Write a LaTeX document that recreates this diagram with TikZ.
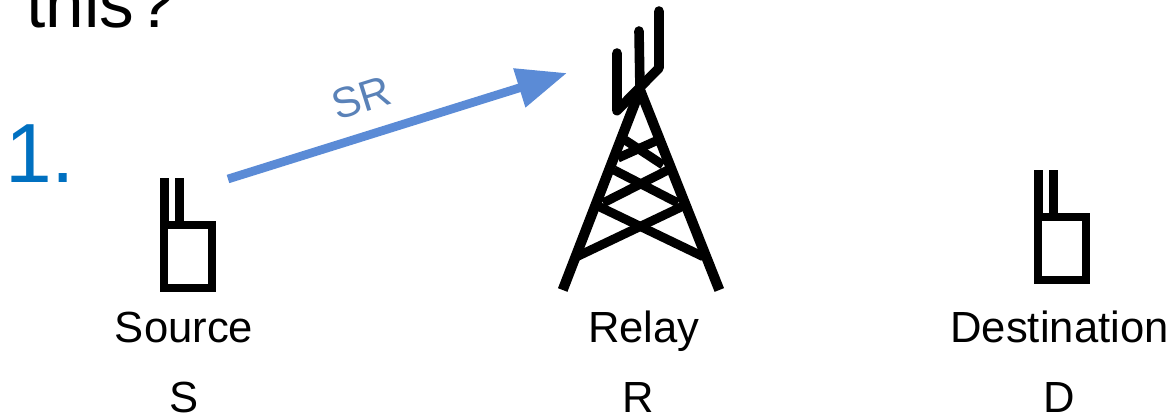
\documentclass[tikz,border=0pt]{standalone}
\usepackage{fontspec}
\setmainfont{Liberation Sans}
\usetikzlibrary{arrows.meta}
\definecolor{linkblue}{HTML}{5B8BD6}
\definecolor{labelblue}{HTML}{5A82B8}
\definecolor{numblue}{HTML}{0070C0}

\begin{document}
\begin{tikzpicture}[x=0.75pt, y=-0.75pt, node distance=52.5pt]
    % Styles
    \tikzstyle{handset} = [rectangle, draw, line width=6pt, inner sep=0pt, minimum width=36pt, minimum height=47.25pt]
    \tikzstyle{aerial} = [line width=6.75pt]
    \tikzstyle{mast} = [line width=7.6pt]
    \tikzstyle{brace} = [line width=6.8pt]
    \tikzstyle{whip} = [line width=7.2pt, line cap=round, line join=round]
    \tikzstyle{station} = [font=\fontsize{32.7pt}{36pt}\selectfont, text height=24pt, text depth=7pt, inner sep=0pt]

    \useasboundingbox (0,0) rectangle (1173,420);
    \clip (0,0) rectangle (1173,420);

    % Heading
    \node[anchor=base west, inner sep=0pt, font=\fontsize{52pt}{56pt}\selectfont] (Heading) at (26,28) {this\kern1.5pt?};
    \node[anchor=base west, inner sep=0pt, text=numblue, font=\fontsize{63pt}{68pt}\selectfont] (Number) at (5,183) {1.};

    % Source
    \node[handset] (SourceBody) at (188,256.3) {};
    \draw[aerial] ([xshift=3.4pt]SourceBody.north west) -- ++(0,-43);
    \draw[aerial] ([xshift=14.6pt]SourceBody.north west) -- ++(0,-43);

    % Destination
    \node[handset] (DestBody) at (1062,248.5) {};
    \draw[aerial] ([xshift=3.4pt]DestBody.north west) -- ++(0,-43);
    \draw[aerial] ([xshift=14.6pt]DestBody.north west) -- ++(0,-43);

    % Relay tower
    \coordinate (Apex) at (640,90);
    \draw[mast] (562.7,290) -- (Apex) -- (719.3,290);
    \draw[brace] (576.7,256.7) -- (681.7,206.7);
    \draw[brace] (703.3,256.7) -- (599.3,206.7);
    \draw[brace] (603,203) -- (668,170);
    \draw[brace] (678,203) -- (614,170);
    \draw[brace] (618,158) -- (658,140);
    \draw[brace] (663,165) -- (625,140);
    \draw[whip] (617,53) -- (617,110.7) -- (659,68) -- (659,11);
    \draw[whip] (639,31) -- (Apex);

    % Labels
    \node[station] (Source) at (184,331) {Source};
    \node[station] (Relay) at (644,331) {Relay};
    \node[station] (Destination) at (1059.5,331) {Destination};
    \node[station] (S) [below of=Source] {S};
    \node[station] (R) [below of=Relay, xshift=-4.5pt] {R};
    \node[station] (D) [below of=Destination] {D};

    % Arrows
    \coordinate (LinkStart) at (228,179);
    \coordinate (LinkEnd) at (567,73);
    \draw[-{Triangle[length=37.5pt,width=29pt]}, line width=6.5pt, linkblue] (LinkStart) -- (LinkEnd);
    \node[rotate=17.4, text=labelblue, inner sep=0pt, font=\fontsize{32pt}{36pt}\selectfont] (LinkLabel) at (361,98) {SR};

\end{tikzpicture}
\end{document}
